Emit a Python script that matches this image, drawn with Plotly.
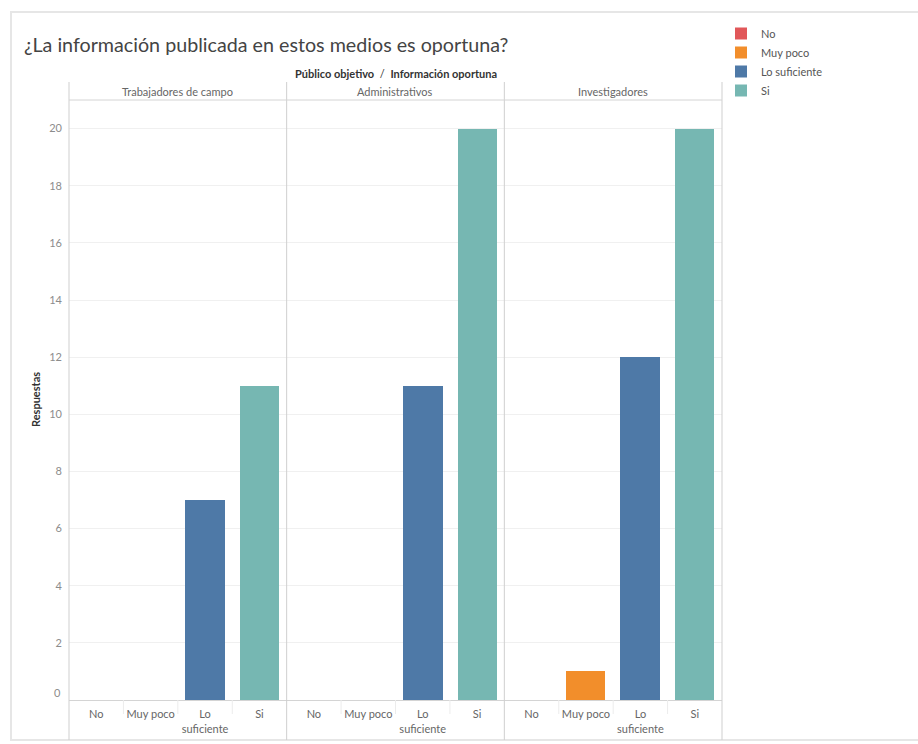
import plotly.graph_objects as go
from plotly.subplots import make_subplots

# Survey answers: "Is the information published in these media timely?"
groups = ["Trabajadores de campo", "Administrativos", "Investigadores"]
answers = ["No", "Muy poco", "Lo suficiente", "Si"]
answer_labels = ["No", "Muy poco", "Lo<br>suficiente", "Si"]
colors = ["#e15759", "#f28e2b", "#4e79a7", "#76b7b2"]

no_counts = [0, 0, 0]
muy_poco_counts = [0, 0, 1]
lo_suficiente_counts = [7, 11, 12]
si_counts = [11, 20, 20]

series = [no_counts, muy_poco_counts, lo_suficiente_counts, si_counts]
y_ticks = list(range(2, 21, 2))

FONT = "Lato, 'Open Sans', sans-serif"
W, H = 918, 744
L, R, T, B = 69, 196, 100, 44
plot_h = H - T - B
plot_w = W - L - R

fig = make_subplots(rows=1, cols=3, shared_yaxes=True, horizontal_spacing=0)

for g, group in enumerate(groups):
    for a, answer in enumerate(answers):
        fig.add_trace(
            go.Bar(
                x=[answer],
                y=[series[a][g]],
                name=answer,
                legendgroup=answer,
                showlegend=(g == 0),
                marker=dict(color=colors[a], line=dict(width=0)),
                width=0.73,
                hovertemplate=f"{group}<br>{answer}: %{{y}}<extra></extra>",
            ),
            row=1, col=g + 1,
        )

for c in range(1, 4):
    fig.update_xaxes(
        type="category",
        categoryorder="array",
        categoryarray=answers,
        tickvals=answers,
        ticktext=answer_labels,
        tickfont=dict(family=FONT, size=11, color="#666666"),
        ticklabelstandoff=4,
        automargin=False,
        showline=True, linecolor="#d4d4d4", linewidth=1,
        showgrid=False, zeroline=False, ticks="",
        range=[-0.5, 3.5],
        fixedrange=True,
        row=1, col=c,
    )
    fig.update_yaxes(
        range=[0, 21],
        tickvals=y_ticks,
        automargin=False,
        showgrid=True, gridcolor="#f0f0f0", gridwidth=1,
        zeroline=False, showline=False, ticks="",
        tickfont=dict(family=FONT, size=11, color="#8c8c8c"),
        ticklabelstandoff=6,
        row=1, col=c,
    )

shapes = []
line_color = "#cfcfcf"
# panel borders running through header and label band
for ax, pos in [("x", 0), ("x", 1), ("x2", 1), ("x3", 1)]:
    shapes.append(dict(
        type="line", xref=f"{ax} domain", x0=pos, x1=pos,
        yref="paper", y0=-40 / plot_h, y1=1 + 18 / plot_h,
        line=dict(color=line_color, width=1),
    ))
# line under the column headers
shapes.append(dict(
    type="line", xref="paper", x0=0, x1=1, yref="paper", y0=1, y1=1,
    line=dict(color="#d4d4d4", width=1),
))
# faint dividers between category labels
for ax in ["x", "x2", "x3"]:
    for b in [0.5, 1.5, 2.5]:
        shapes.append(dict(
            type="line", xref=ax, x0=b, x1=b,
            yref="paper", y0=-14 / plot_h, y1=0,
            line=dict(color="#ececec", width=1),
        ))
# dashboard frame
shapes.append(dict(
    type="rect", xref="paper", yref="paper",
    x0=(11 - L) / plot_w, x1=(W + 5 - L) / plot_w,
    y0=(H - 740 - B) / plot_h, y1=1 + (T - 12) / plot_h,
    line=dict(color="#e6e6e6", width=2), fillcolor="rgba(0,0,0,0)",
    layer="below",
))

annotations = []
for g, group in enumerate(groups):
    annotations.append(dict(
        text=group, xref="x domain" if g == 0 else f"x{g + 1} domain",
        x=0.5, yref="paper", y=1 + 9 / plot_h, showarrow=False,
        xanchor="center", yanchor="middle",
        font=dict(family=FONT, size=11, color="#666666"),
    ))
annotations.append(dict(
    text="<b>Público objetivo</b>  /  <b>Información oportuna</b>",
    xref="paper", x=0.5, yref="paper", y=1 + 27 / plot_h, showarrow=False,
    xanchor="center", yanchor="middle",
    font=dict(family=FONT, size=11, color="#333333"),
))
annotations.append(dict(
    text="<b>Respuestas</b>", textangle=-90,
    xref="paper", x=(35 - L) / plot_w, yref="paper", y=0.5,
    showarrow=False, xanchor="center", yanchor="middle",
    font=dict(family=FONT, size=11, color="#333333"),
))
annotations.append(dict(
    text="0", xref="paper", x=(63 - L) / plot_w,
    yref="paper", y=8 / plot_h, showarrow=False,
    xanchor="right", yanchor="middle",
    font=dict(family=FONT, size=11, color="#8c8c8c"),
))

fig.update_layout(
    width=W, height=H,
    margin=dict(l=L, r=R, t=T, b=B, autoexpand=False),
    paper_bgcolor="white", plot_bgcolor="white",
    barmode="overlay",
    bargap=0,
    title=dict(
        text="¿La información publicada en estos medios es oportuna?",
        x=24 / W, xanchor="left", xref="container",
        y=1 - 45 / H, yanchor="middle", yref="container",
        font=dict(family=FONT, size=19.7, color="#444444"),
    ),
    legend=dict(
        x=(721 - L) / plot_w, y=1 + (T - 19) / plot_h,
        xanchor="left", yanchor="top",
        font=dict(family=FONT, size=11, color="#555555"),
        tracegroupgap=0, itemclick=False, itemdoubleclick=False,
        bgcolor="rgba(0,0,0,0)",
    ),
    shapes=shapes,
    annotations=annotations,
    hovermode="closest",
)

fig.write_html("out.html")
